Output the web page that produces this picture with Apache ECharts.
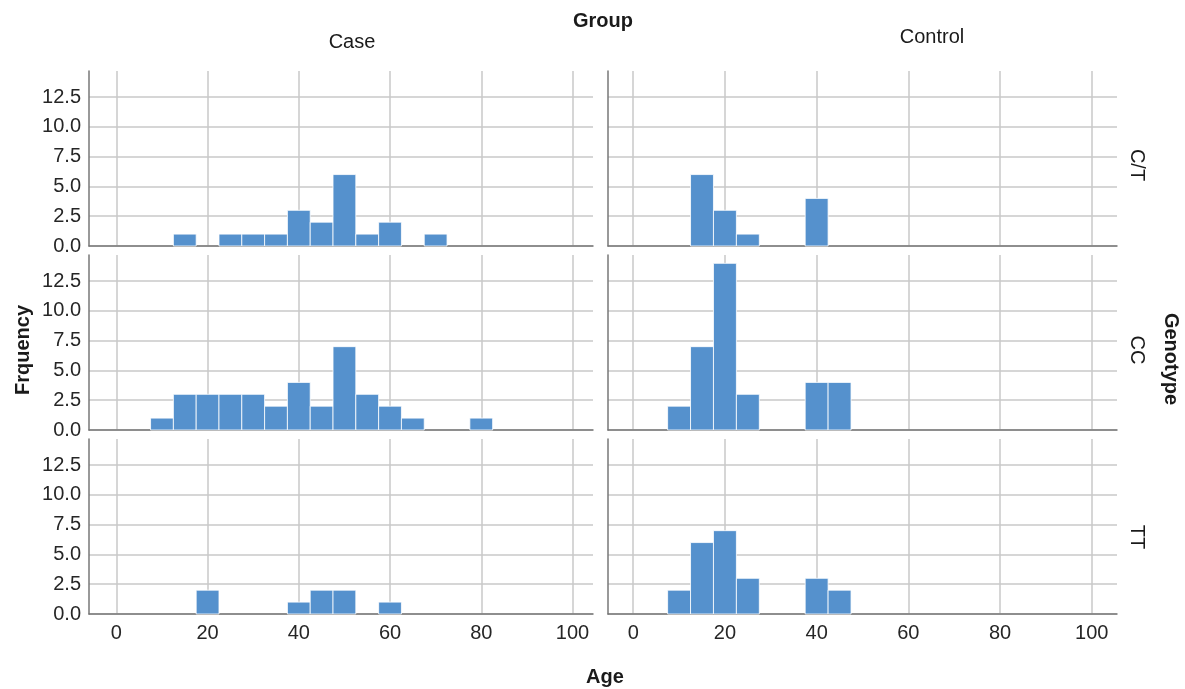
<!DOCTYPE html>
<html>
<head>
<meta charset="utf-8">
<script src="https://cdn.jsdelivr.net/npm/echarts@6/dist/echarts.min.js"></script>
<style>
html,body{margin:0;padding:0;background:#fff;}
#chart{width:1185px;height:689px;}
</style>
</head>
<body>
<div id="chart"></div>
<script>
// ---- data ----
var binCenters = [10, 15, 20, 25, 30, 35, 40, 45, 50, 55, 60, 65, 70, 75, 80];
var binWidth = 5;
var groups = ['Case', 'Control'];
var genotypes = ['C/T', 'CC', 'TT'];
var caseCT     = [0, 1, 0, 1, 1, 1, 3, 2, 6, 1, 2, 0, 1, 0, 0];
var caseCC     = [1, 3, 3, 3, 3, 2, 4, 2, 7, 3, 2, 1, 0, 0, 1];
var caseTT     = [0, 0, 2, 0, 0, 0, 1, 2, 2, 0, 1, 0, 0, 0, 0];
var controlCT  = [0, 6, 3, 1, 0, 0, 4, 0, 0, 0, 0, 0, 0, 0, 0];
var controlCC  = [2, 7, 14, 3, 0, 0, 4, 4, 0, 0, 0, 0, 0, 0, 0];
var controlTT  = [2, 6, 7, 3, 0, 0, 3, 2, 0, 0, 0, 0, 0, 0, 0];
var xTicks = [0, 20, 40, 60, 80, 100];
var yTicks = [0, 2.5, 5, 7.5, 10, 12.5];

var panelCounts = [
  [caseCT, controlCT],
  [caseCC, controlCC],
  [caseTT, controlTT]
];

// ---- layout ----
var colLeft = [89, 608];
var colWidth = [504, 509];
var colMin = [-6, -5.5];
var colMax = [104.5, 105.5];
var rowTop = [71, 255, 439];
var rowHeight = 175;
var FONT = '"Liberation Sans", Arial, Helvetica, sans-serif';
var BAR = '#5591cd';

var grids = [], xAxes = [], yAxes = [], series = [];
var idx = 0;
for (var r = 0; r < 3; r++) {
  for (var c = 0; c < 2; c++) {
    grids.push({left: colLeft[c], top: rowTop[r], width: colWidth[c], height: rowHeight, containLabel: false});
    xAxes.push({
      type: 'value', gridIndex: idx, min: colMin[c], max: colMax[c],
      axisLine: {show: true, onZero: false, lineStyle: {color: '#777', width: 1.5}},
      axisTick: {show: false, customValues: xTicks},
      axisLabel: {show: r === 2, customValues: xTicks, fontSize: 20, color: '#262626', fontFamily: FONT, margin: 9},
      splitLine: {show: true, lineStyle: {color: '#c8c8c8', width: 1.5}}
    });
    yAxes.push({
      type: 'value', gridIndex: idx, min: 0, max: 14.7,
      axisLine: {show: true, onZero: false, lineStyle: {color: '#777', width: 1.5}},
      axisTick: {show: false, customValues: yTicks},
      axisLabel: {show: c === 0, customValues: yTicks, fontSize: 20, color: '#262626', fontFamily: FONT, margin: 8,
        formatter: function (v) { return Number(v).toFixed(1); }},
      splitLine: {show: true, lineStyle: {color: '#c8c8c8', width: 1.5}}
    });
    var counts = panelCounts[r][c];
    var data = [];
    for (var i = 0; i < binCenters.length; i++) {
      if (counts[i] > 0) data.push([binCenters[i], counts[i]]);
    }
    series.push({
      type: 'custom', xAxisIndex: idx, yAxisIndex: idx, data: data,
      name: groups[c] + ' ' + genotypes[r],
      renderItem: function (params, api) {
        var x = api.value(0), y = api.value(1);
        var p1 = api.coord([x - binWidth / 2, y]);
        var p2 = api.coord([x + binWidth / 2, 0]);
        return {
          type: 'rect',
          shape: {x: p1[0], y: p1[1], width: p2[0] - p1[0], height: p2[1] - p1[1]},
          style: {fill: BAR, stroke: 'rgba(255,255,255,0.8)', lineWidth: 1}
        };
      }
    });
    idx++;
  }
}

var txt = function (text, x, y, opts) {
  opts = opts || {};
  return {
    type: 'text', x: x, y: y, rotation: opts.rotation || 0, z: 10,
    style: {text: text, fill: '#1a1a1a', font: (opts.bold ? 'bold ' : '') + (opts.size || 20) + 'px ' + FONT,
      textAlign: 'center', textVerticalAlign: 'middle'}
  };
};

var graphics = [
  txt('Group', 603, 21, {bold: true}),
  txt(groups[0], 352, 42),
  txt(groups[1], 932, 37),
  txt(genotypes[0], 1137, 165, {rotation: -Math.PI / 2}),
  txt(genotypes[1], 1137, 350, {rotation: -Math.PI / 2}),
  txt(genotypes[2], 1137, 537, {rotation: -Math.PI / 2}),
  txt('Genotype', 1171, 359, {bold: true, rotation: -Math.PI / 2}),
  txt('Frquency', 23, 350, {bold: true, rotation: Math.PI / 2}),
  txt('Age', 605, 677, {bold: true})
];

var chart = echarts.init(document.getElementById('chart'), null, {renderer: 'canvas'});
chart.setOption({
  animation: false,
  backgroundColor: '#fff',
  grid: grids,
  xAxis: xAxes,
  yAxis: yAxes,
  series: series,
  graphic: graphics
});
</script>
</body>
</html>
